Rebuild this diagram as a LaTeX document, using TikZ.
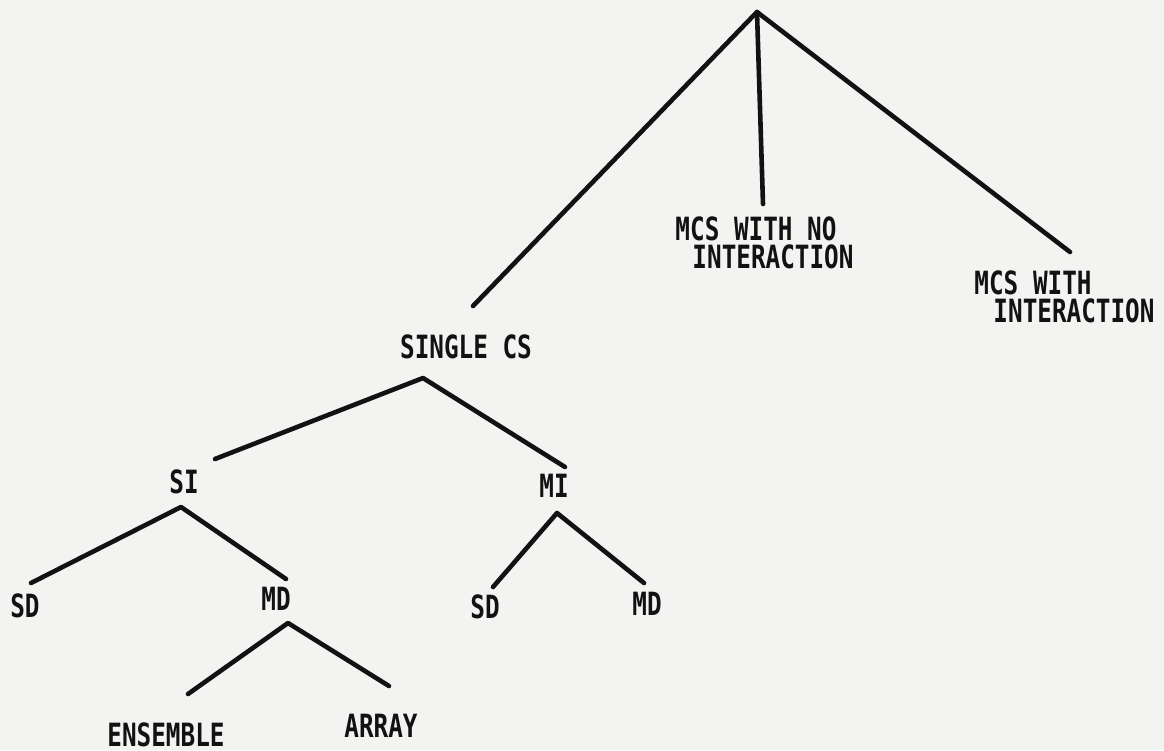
\documentclass[tikz,border=0pt]{standalone}
\usepackage{fontspec}
\newfontfamily\typer[FakeStretch=0.76]{DejaVu Sans Mono}
\definecolor{paper}{RGB}{243,243,242}
\definecolor{ink}{RGB}{18,18,18}
\tikzset{
  lbl/.style={anchor=base, inner sep=0pt, text=ink,
    text height=23pt, text depth=0pt,
    font=\typer\bfseries\fontsize{32}{34}\selectfont},
  branch/.style={draw=ink, line width=4.6pt, line cap=round, line join=round}
}
\begin{document}
\begin{tikzpicture}[x=1pt, y=-1pt]
  \path[fill=paper, use as bounding box] (0,0) rectangle (1164,750);

  % labels
  \node[lbl] (mcsnoA) at (756,240) {MCS WITH NO};
  \node[lbl] (mcsnoB) at (773,268) {INTERACTION};
  \node[lbl] (mcswA)  at (1033,294) {MCS WITH};
  \node[lbl] (mcswB)  at (1074,322) {INTERACTION};
  \node[lbl] (single) at (466,358) {SINGLE CS};
  \node[lbl] (si)     at (184,493) {SI};
  \node[lbl] (mi)     at (554,497) {MI};
  \node[lbl] (sdA)    at (25,617)  {SD};
  \node[lbl] (mdA)    at (276,610) {MD};
  \node[lbl] (sdB)    at (485,618) {SD};
  \node[lbl] (mdB)    at (647,615) {MD};
  \node[lbl] (ens)    at (166,746) {ENSEMBLE};
  \node[lbl] (arr)    at (381,737) {ARRAY};

  % tree vertices and branch tips
  \coordinate (top)     at (757,12);
  \coordinate (topL)    at (473,306);
  \coordinate (topM)    at (763,204);
  \coordinate (topR)    at (1070,252);
  \coordinate (scs)     at (423,378);
  \coordinate (scsL)    at (215,459);
  \coordinate (scsR)    at (565,467);
  \coordinate (sitop)   at (181,507);
  \coordinate (siL)     at (31,583);
  \coordinate (siR)     at (286,579);
  \coordinate (mdtop)   at (288,623);
  \coordinate (mdL)     at (188,694);
  \coordinate (mdR)     at (389,686);
  \coordinate (mitop)   at (557,513);
  \coordinate (miL)     at (493,587);
  \coordinate (miR)     at (644,583);

  % branches
  \draw[branch] (topL) -- (top) -- (topR);
  \draw[branch] (top) -- (topM);
  \draw[branch] (scsL) -- (scs) -- (scsR);
  \draw[branch] (siL) -- (sitop) -- (siR);
  \draw[branch] (mdL) -- (mdtop) -- (mdR);
  \draw[branch] (miL) -- (mitop) -- (miR);
\end{tikzpicture}
\end{document}
